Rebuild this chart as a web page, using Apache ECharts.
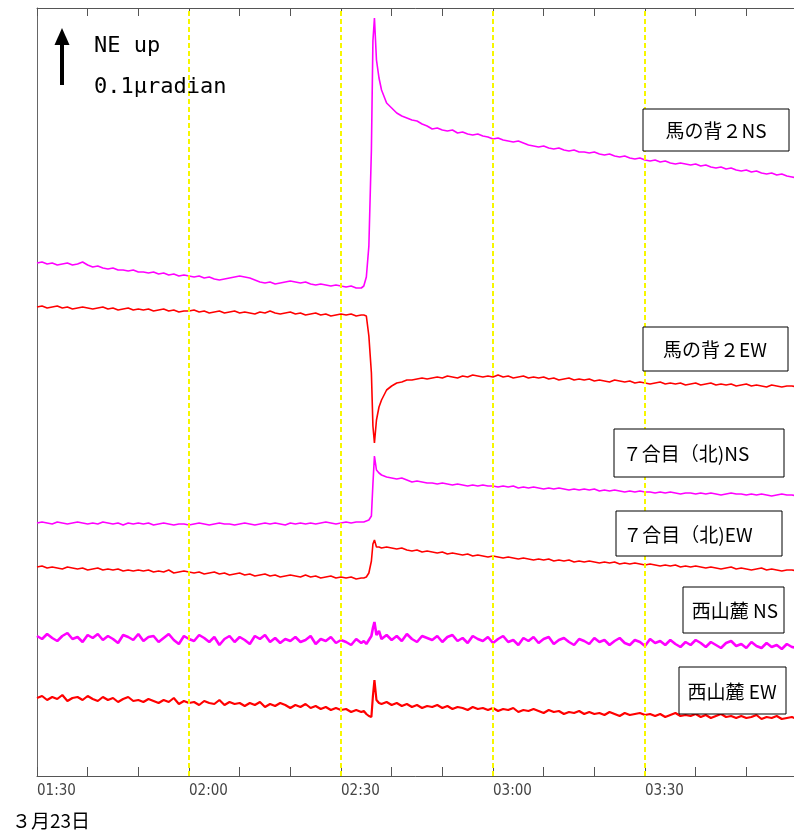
<!DOCTYPE html>
<html>
<head>
<meta charset="utf-8">
<style>
  html, body { margin: 0; padding: 0; background: #fff; }
  #chart { width: 794px; height: 834px; }
</style>
<script src="https://cdn.jsdelivr.net/npm/echarts@6/dist/echarts.min.js"></script>
</head>
<body>
<div id="chart"></div>
<script>
// time axis: minutes after 01:30 (finer around the 02:36 event)
const minutes = [
  0,1,2,3,4,5,6,7,8,9,10,11,12,13,14,15,16,17,18,19,20,21,22,23,24,25,26,27,28,29,30,
  31,32,33,34,35,36,37,38,39,40,41,42,43,44,45,46,47,48,49,50,51,52,53,54,55,56,57,58,59,60,
  61,62,63,64,
  64.5,65,65.5,66,66.3,66.6,67,67.5,68,
  69,70,71,72,73,74,75,76,77,78,79,80,81,82,83,84,85,86,87,88,89,90,91,92,93,94,95,96,97,98,
  99,100,101,102,103,104,105,106,107,108,109,110,111,112,113,114,115,116,117,118,
  119,120,121,122,123,124,125,126,127,128,129,130,131,132,133,134,135,136,137,138,
  139,140,141,142,143,144,145,146,147,148,149,150
];

// traces, plotted with offsets (display units, 1 unit ~ 1px)
const umanose2NS = [
  513,514,512,513,511,512,513,511,512,514,511,
  509,510,508,507,508,506,506,505,506,504,
  504,503,504,502,503,501,502,500,501,500,
  499,500,498,499,497,496,497,498,499,500,
  499,498,496,494,493,494,492,493,494,495,
  494,493,494,492,491,492,491,490,491,490,
  489,490,488,488,
  490,499,530,626,735,758,716,698,686,
  673,668,663,660,658,656,655,652,650,647,
  648,646,645,646,643,644,642,641,642,640,
  639,637,638,636,635,634,635,633,631,630,
  629,630,628,627,628,626,625,626,624,624,
  623,624,622,621,622,620,619,620,618,617,
  618,616,615,616,614,615,613,612,613,612,
  611,612,610,611,609,608,609,607,608,606,
  605,606,604,605,603,602,603,601,602,600,
  599,598
];
const umanose2EW = [
  469,470,468,469,470,468,469,467,468,469,468,
  467,468,469,467,468,466,467,468,466,467,
  466,467,465,466,467,465,466,464,465,465,
  466,464,465,463,464,465,463,464,465,463,
  464,463,462,464,463,465,463,462,463,464,
  462,463,461,462,463,461,462,460,461,462,
  461,462,460,461,
  461,460,440,403,350,333,356,369,376,
  386,390,393,394,396,396,397,398,397,398,
  399,398,400,399,398,400,399,401,400,399,
  400,399,401,399,400,398,399,400,398,399,
  398,399,397,398,396,397,398,396,397,396,
  397,395,396,395,394,396,395,394,395,393,
  394,393,392,393,394,392,393,392,393,391,
  392,393,391,392,393,391,392,391,392,390,
  391,392,390,391,390,389,391,390,389,390,
  390,389
];
const nanagomeNS = [
  253,254,253,252,254,253,252,253,254,253,252,
  253,252,254,253,252,253,251,253,252,253,
  252,253,251,252,253,252,251,252,252,251,
  252,253,252,251,252,253,252,252,251,252,
  253,252,251,252,253,252,253,252,251,253,
  252,253,252,253,252,253,254,253,252,253,
  254,253,254,254,
  254,255,256,260,292,320,306,303,301,
  299,298,297,298,296,294,295,294,293,293,
  292,293,292,291,292,291,290,291,290,291,
  290,290,289,290,289,290,288,289,288,289,
  288,287,288,287,288,287,286,287,286,287,
  286,287,285,286,285,286,285,284,285,284,
  285,284,284,283,284,283,284,283,282,283,
  283,282,283,282,283,282,281,282,283,282,
  282,281,282,281,282,281,280,281,282,281,
  281,280
];
const nanagomeEW = [
  209,210,208,209,208,207,209,208,207,208,206,
  207,208,206,207,206,207,205,206,205,206,
  205,206,204,205,204,206,203,204,205,204,
  203,204,202,203,204,202,203,201,202,203,
  201,202,200,201,202,200,201,199,200,201,
  200,199,201,199,200,198,199,200,198,199,
  198,199,197,198,
  198,199,203,215,232,236,229,229,228,
  229,228,227,228,226,225,226,224,225,224,
  223,224,222,223,222,221,222,220,221,220,
  219,220,219,218,219,218,217,218,217,216,
  217,216,217,215,216,215,216,214,215,214,
  215,214,213,214,213,214,212,213,212,213,
  212,211,212,211,210,211,210,211,209,210,
  209,210,209,208,209,208,207,208,209,207,
  208,207,206,207,208,206,207,206,205,206,
  206,205
];
const nishisanrokuNS = [
  140,137,142,138,135,140,143,137,139,134,141,
  138,142,136,140,137,133,141,139,136,142,
  135,139,140,134,138,142,136,132,140,137,
  135,141,138,134,139,131,137,140,134,139,
  136,132,140,137,141,134,138,133,137,135,
  139,134,136,140,132,137,135,139,133,136,
  134,131,137,133,
  135,132,136,140,148,154,141,145,137,
  141,136,140,135,142,137,134,140,138,136,
  140,134,139,141,135,138,133,140,137,135,
  139,133,137,140,134,136,131,138,135,139,
  133,137,139,132,136,138,134,131,137,135,
  132,138,134,136,131,135,138,133,131,136,
  134,130,137,133,135,131,136,132,129,134,
  131,136,133,129,134,131,128,133,135,130,
  132,128,134,130,128,133,129,131,127,132,
  129,128
];
const nishisanrokuEW = [
  78,80,76,79,77,81,75,78,79,76,80,
  77,75,79,76,78,74,77,79,75,76,
  74,77,75,73,76,74,78,72,75,73,
  74,71,75,73,72,76,71,74,72,73,
  70,73,71,74,69,72,70,73,71,68,
  71,69,72,68,70,67,69,66,68,66,
  67,64,66,64,
  65,62,60,59,80,96,76,73,72,
  74,71,73,70,72,69,71,68,70,69,
  71,68,70,67,69,68,66,69,67,68,
  66,68,65,67,66,68,64,66,65,67,
  65,63,66,64,65,62,64,63,65,62,
  64,62,63,61,64,62,60,63,61,62,
  63,61,62,60,62,59,61,63,60,61,
  60,62,59,61,58,60,62,59,60,58,
  60,58,59,61,57,59,58,60,57,58,
  59,57
];

const timeLabels = ["01:30", "02:00", "02:30", "03:00", "03:30", "04:00"];
const guideMinutes = [30, 60, 90, 120];
const traceNames = ["馬の背２NS", "馬の背２EW", "７合目（北)NS", "７合目（北)EW", "西山麓 NS", "西山麓 EW"];
const traceColors = ["#ff00ff", "#ff0000", "#ff00ff", "#ff0000", "#ff00ff", "#ff0000"];
const dateLabel = "３月23日";

(function () {
  const el = document.getElementById("chart");
  const chart = echarts.init(el, null, { renderer: "canvas" });

  const traces = [umanose2NS, umanose2EW, nanagomeNS, nanagomeEW, nishisanrokuNS, nishisanrokuEW];
  const widths = [1.6, 1.6, 1.6, 1.6, 2.6, 2.2];
  const pair = (vals) => minutes.map((m, i) => [m, vals[i]]);

  const AXIS = "#555";
  const CJK = "'Noto Sans CJK JP', sans-serif";

  // label boxes on the right: [x, y, w, h, text centre x]
  const boxes = [
    [643, 109, 146, 42, 716],
    [643, 327, 145, 44, 715],
    [614, 429, 170, 48, 686],
    [616, 511, 166, 45, 688],
    [683, 587, 101, 46, 735],
    [679, 667, 107, 47, 732]
  ];

  const graphics = [];
  boxes.forEach((b, i) => {
    graphics.push({
      type: "rect",
      shape: { x: b[0], y: b[1], width: b[2], height: b[3] },
      style: { fill: "#fff", stroke: "#000", lineWidth: 1 },
      z: 10
    });
    graphics.push({
      type: "text",
      x: b[4], y: b[1] + b[3] / 2 + 1,
      style: {
        text: traceNames[i], font: "19px " + CJK, fill: "#000",
        align: "center", verticalAlign: "middle",
        textAlign: "center", textVerticalAlign: "middle"
      },
      z: 11
    });
  });

  // scale arrow + legend text
  graphics.push({
    type: "polygon",
    shape: { points: [[62, 28], [69.5, 45], [54.5, 45]] },
    style: { fill: "#000" }, z: 10
  });
  graphics.push({
    type: "rect",
    shape: { x: 60, y: 43, width: 4, height: 42 },
    style: { fill: "#000" }, z: 10
  });
  graphics.push({
    type: "text", x: 94, y: 46,
    style: {
      text: "NE up", font: "22px 'DejaVu Sans Mono', monospace", fill: "#000",
      verticalAlign: "middle", textVerticalAlign: "middle"
    }, z: 10
  });
  graphics.push({
    type: "text", x: 94, y: 87,
    style: {
      text: "0.1μradian", font: "22px 'DejaVu Sans Mono', monospace", fill: "#000",
      verticalAlign: "middle", textVerticalAlign: "middle"
    }, z: 10
  });
  graphics.push({
    type: "text", x: 12, y: 821,
    style: {
      text: dateLabel, font: "19px " + CJK, fill: "#000",
      verticalAlign: "middle", textVerticalAlign: "middle"
    }, z: 10
  });

  const series = traces.map((vals, i) => ({
    name: traceNames[i],
    type: "line",
    xAxisIndex: 0,
    data: pair(vals),
    showSymbol: false,
    symbol: "none",
    lineStyle: { color: traceColors[i], width: widths[i] },
    emphasis: { disabled: true },
    silent: true,
    z: 3
  }));

  // yellow dashed guides every 30 min
  series[0].markLine = {
    silent: true,
    symbol: "none",
    label: { show: false },
    animation: false,
    lineStyle: { color: "#f7f700", width: 2, type: [5, 3], opacity: 1 },
    emphasis: { disabled: true },
    data: guideMinutes.map((m) => ({ xAxis: m }))
  };

  const option = {
    animation: false,
    backgroundColor: "#fff",
    // plot runs a little past the right edge of the page (04:00 is off-screen)
    grid: {
      left: 37, width: 760, top: 8, bottom: 58,
      containLabel: false, outerBoundsMode: "none"
    },
    xAxis: [
      {
        type: "value", position: "bottom", min: 0, max: 150, interval: 10,
        axisLine: { show: true, lineStyle: { color: AXIS, width: 1 } },
        axisTick: { show: true, inside: true, length: 9, lineStyle: { color: AXIS } },
        axisLabel: {
          show: true, margin: 8, align: "left", showMaxLabel: false,
          color: "#444", fontSize: 15,
          fontFamily: "'DejaVu Sans Condensed', 'DejaVu Sans Mono', monospace",
          formatter: (v) => (v % 30 === 0 ? timeLabels[v / 30] : "")
        },
        splitLine: { show: false }
      },
      {
        type: "value", position: "top", min: 0, max: 150, interval: 10,
        axisLine: { show: true, onZero: false, lineStyle: { color: AXIS, width: 1 } },
        axisTick: { show: true, inside: true, length: 8, lineStyle: { color: AXIS } },
        axisLabel: { show: false },
        splitLine: { show: false }
      }
    ],
    yAxis: {
      type: "value", min: 0, max: 768,
      axisLine: { show: true, lineStyle: { color: "#666", width: 1 } },
      axisTick: { show: false },
      axisLabel: { show: false },
      splitLine: { show: false }
    },
    series: series,
    graphic: { elements: graphics }
  };

  chart.setOption(option);
})();
</script>
</body>
</html>
